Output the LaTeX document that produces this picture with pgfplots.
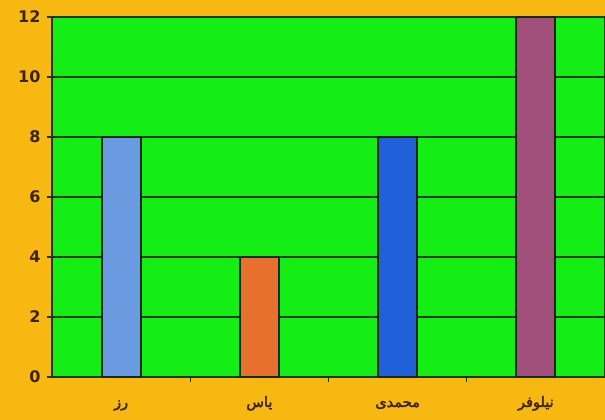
\documentclass[border=0pt]{standalone}
\usepackage{pgfplots}
\pgfplotsset{compat=1.18}
\usepackage{fontspec}
\setmainfont{DejaVu Sans}
\newfontfamily\arabicfont[Script=Arabic, FakeBold=2.5]{DejaVu Sans}
\TeXXeTstate=1
\definecolor{bgorange}{HTML}{F8B812}
\definecolor{plotgreen}{HTML}{14EE14}
\definecolor{gridc}{HTML}{183A10}
\definecolor{txt}{HTML}{3A2406}
\definecolor{cA}{HTML}{6A9BE0}
\definecolor{cB}{HTML}{E8702E}
\definecolor{cC}{HTML}{2060D8}
\definecolor{cD}{HTML}{A0507A}
\definecolor{edge}{HTML}{142A10}
\begin{document}
\begin{tikzpicture}
\useasboundingbox (-52pt,-43pt) rectangle (553pt,377pt);
\fill[bgorange] (-52pt,-43pt) rectangle (553pt,377pt);
\begin{axis}[
  at={(0pt,0pt)}, anchor=south west,
  scale only axis, width=553pt, height=360pt,
  xmin=-0.5, xmax=3.5, ymin=0, ymax=12,
  ytick={0,2,...,12},
  xtick={0,1,2,3},
  xticklabels={{\arabicfont\beginR رز\endR},{\arabicfont\beginR یاس\endR},{\arabicfont\beginR محمدی\endR},{\arabicfont\beginR نیلوفر\endR}},
  minor xtick={0.5,1.5,2.5},
  xtick pos=bottom, ytick pos=left,
  major x tick style={draw=none},
  minor x tick style={draw=gridc, line width=1.4pt},
  tick align=outside,
  major tick length=5pt, minor tick length=5pt,
  y tick style={draw=gridc, line width=1.4pt},
  axis background/.style={fill=plotgreen},
  axis line style={draw=gridc, line width=2pt},
  ymajorgrids, grid style={draw=gridc, line width=2pt},
  tick label style={text=txt, font=\bfseries\fontsize{16}{18}\selectfont},
  xticklabel style={font=\fontsize{14.5}{16}\selectfont, anchor=base, yshift=-25pt, text depth=0pt},
  yticklabel style={xshift=-3pt},
  /pgf/number format/assume math mode=true,
  ybar, bar width=39pt,
  clip=false,
]
\addplot[fill=cA, draw=edge, line width=1.8pt, bar shift=0pt] coordinates {(0,8)};
\addplot[fill=cB, draw=edge, line width=1.8pt, bar shift=0pt] coordinates {(1,4)};
\addplot[fill=cC, draw=edge, line width=1.8pt, bar shift=0pt] coordinates {(2,8)};
\addplot[fill=cD, draw=edge, line width=1.8pt, bar shift=0pt] coordinates {(3,12)};
\end{axis}
\end{tikzpicture}
\end{document}
